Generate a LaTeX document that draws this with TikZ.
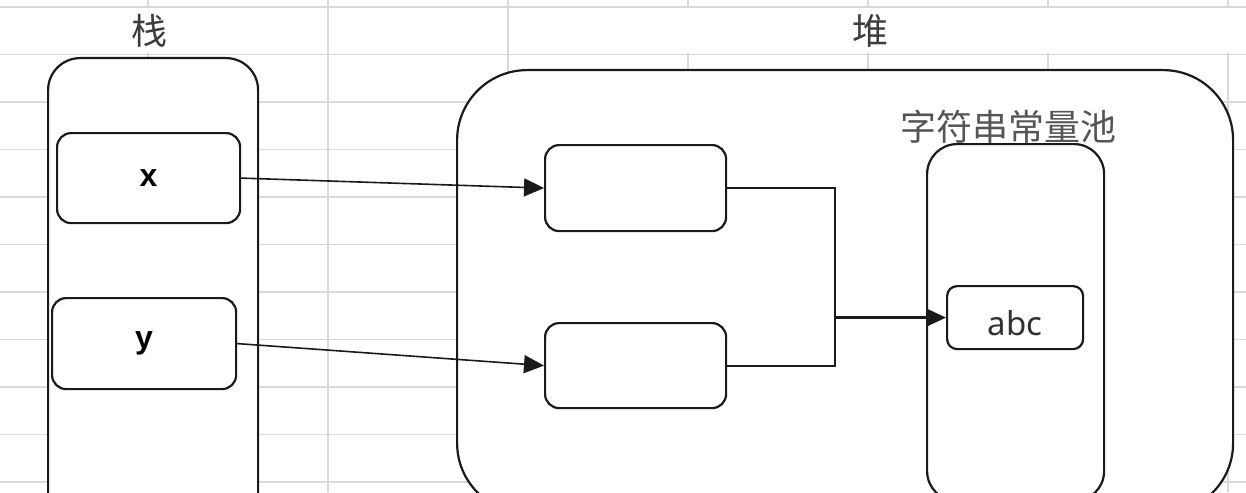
\documentclass[tikz,border=0pt]{standalone}
\usepackage{fontspec}
\setmainfont{Liberation Sans}
\newfontfamily\cjk{Noto Sans CJK SC}
\newfontfamily\lat{Noto Sans}
\usetikzlibrary{arrows.meta}
\definecolor{gridc}{HTML}{D9D9D9}
\definecolor{ink}{HTML}{1A1A1A}
\definecolor{lbl}{HTML}{555555}
\tikzset{
  gridline/.style={draw=gridc, line width=0.9pt},
  box/.style={draw=ink, fill=white, line width=1.1pt, anchor=north west, inner sep=0pt},
  bigbox/.style={box, rounded corners=#1},
  cell/.style={box, rounded corners=7pt},
  conn/.style={draw=ink, line width=0.8pt},
  arr/.style={conn, -{Triangle[length=10pt,width=9pt]}},
  cjklabel/.style={font=\cjk\fontsize{18}{20}\selectfont},
}
\begin{document}
\begin{tikzpicture}[x=0.5pt,y=-0.5pt]
\useasboundingbox (0,0) rectangle (1246,492);
\clip (0,0) rectangle (1246,492);
\fill[white] (0,0) rectangle (1246,492);
% spreadsheet grid
\foreach \yy in {7,54.5,102,149.5,197,244.5,292,339.5,387,434.5,482}
  \draw[gridline] (0,\yy) -- (1246,\yy);
\foreach \xx in {148,328,508,688,868,1048,1228}
  \draw[gridline] (\xx,0) -- (\xx,492);
% merged label cells
\fill[white] (0,8.5) rectangle (326.5,53);
\fill[white] (509.5,8.5) rectangle (1246,53);
% labels
\node[cjklabel, text=ink!85] (lstack) at (149,31) {栈};
\node[cjklabel, text=ink!85] (lheap) at (870,31) {堆};
% stack
\node[bigbox=16pt, minimum width=105pt, minimum height=236.5pt] (stack) at (47,57) {};
\node[cell, minimum width=91.5pt, minimum height=45pt] (xb) at (56,132) {};
\node[font=\bfseries\fontsize{16}{18}\selectfont] (xt) at (xb.center) {x};
\node[cell, minimum width=92pt, minimum height=45.5pt] (yb) at (51,297) {};
\node[font=\bfseries\fontsize{16}{18}\selectfont] (yt) at (yb.center) {y};
% heap
\node[bigbox=35pt, minimum width=388pt, minimum height=221.5pt] (heap) at (456,69) {};
\node[cell, minimum width=90.5pt, minimum height=43pt] (r1) at (544,144) {};
\node[cell, minimum width=90.5pt, minimum height=42.5pt] (r2) at (544,322) {};
\node[bigbox=15pt, minimum width=88.5pt, minimum height=178.5pt] (pool) at (926,143) {};
\node[cjklabel, text=lbl] (lpool) at (1008,127) {字符串常量池};
\node[box, rounded corners=5pt, minimum width=68pt, minimum height=31.5pt] (abc) at (946,285) {};
\node[font=\lat\fontsize{16.5}{18}\selectfont, text=ink!90] (abct) at ([yshift=-3pt]abc.center) {abc};
% connectors
\draw[arr] (xb.east) -- (r1.west);
\draw[arr] (yb.east) -- (r2.west);
\coordinate (j) at (835,316.5);
\draw[conn, line width=1pt] (r1.east) -| (j) |- (r2.east);
\draw[arr, line width=1.2pt] (j |- abc.west) -- (abc.west);
\end{tikzpicture}
\end{document}
